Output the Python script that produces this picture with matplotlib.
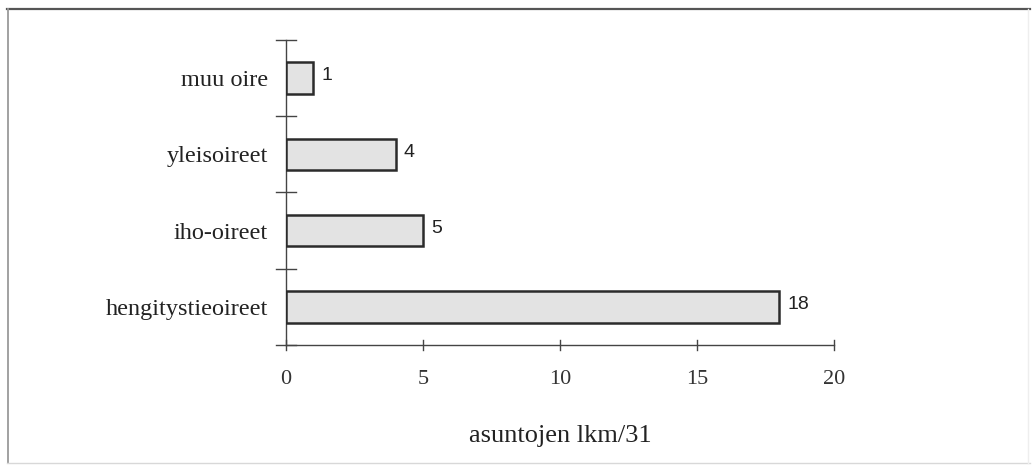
import matplotlib
matplotlib.use("Agg")
import matplotlib.pyplot as plt
from matplotlib.lines import Line2D

categories = ["hengitystieoireet", "iho-oireet", "yleisoireet", "muu oire"]
values = [18, 5, 4, 1]
x_ticks = [0, 5, 10, 15, 20]
x_label = "asuntojen lkm/31"

W, H = 1035, 465
fig = plt.figure(figsize=(W / 100, H / 100), dpi=100)

# axes placed in pixel units: x 0..20 spans 286..834, y spans 40..345
left, right, top, bottom = 286, 834, 40, 345
ax = fig.add_axes([left / W, 1 - bottom / H, (right - left) / W, (bottom - top) / H])

ypos = list(range(len(categories)))
ax.barh(ypos, values, height=0.41, color="#e3e3e3", edgecolor="#2b2b2b",
        linewidth=1.8, zorder=3)

for y, v in zip(ypos, values):
    ax.text(v + 0.3, y + 0.03, str(v), va="center", ha="left",
            fontsize=14, family="Liberation Sans", color="#222222")

ax.set_xlim(0, 20)
ax.set_ylim(-0.5, len(categories) - 0.5)
ax.set_xticks(x_ticks)
ax.set_xticklabels([str(t) for t in x_ticks], family="Liberation Serif",
                   fontsize=16, color="#333333")
ax.set_yticks(ypos)
ax.set_yticklabels(categories, family="Liberation Serif", fontsize=17.5,
                   color="#222222")
ax.tick_params(axis="y", length=0, pad=13)
ax.tick_params(axis="x", length=0, pad=18)

for s in ["top", "right"]:
    ax.spines[s].set_visible(False)
ax.spines["left"].set_color("#444444")
ax.spines["bottom"].set_color("#444444")
ax.spines["left"].set_linewidth(1.0)
ax.spines["bottom"].set_linewidth(1.0)

# crossing tick marks on both axes
for b in [-0.5, 0.5, 1.5, 2.5, 3.5]:
    ax.plot([-0.35, 0.35], [b, b], color="#444444", lw=1.0, clip_on=False, zorder=4)
for t in x_ticks:
    ax.plot([t, t], [-0.5 - 0.06, -0.5 + 0.06], color="#444444", lw=1.0,
            clip_on=False, zorder=4)

ax.set_xlabel(x_label, family="Liberation Serif", fontsize=19, color="#222222",
              labelpad=26)

# outer frame around the chart
fig.add_artist(Line2D([7 / W, 1030 / W], [1 - 9 / H, 1 - 9 / H],
                      transform=fig.transFigure, color="#555555", lw=1.6))
fig.add_artist(Line2D([7.5 / W, 7.5 / W], [1 - 9 / H, 1 - 463 / H],
                      transform=fig.transFigure, color="#9a9a9a", lw=1.3))
fig.add_artist(Line2D([7 / W, 1030 / W], [1 - 463 / H, 1 - 463 / H],
                      transform=fig.transFigure, color="#d8d8d8", lw=1.0))
fig.add_artist(Line2D([1028 / W, 1028 / W], [1 - 9 / H, 1 - 463 / H],
                      transform=fig.transFigure, color="#eeeeee", lw=1.0))

fig.savefig("out.png", dpi=100)
